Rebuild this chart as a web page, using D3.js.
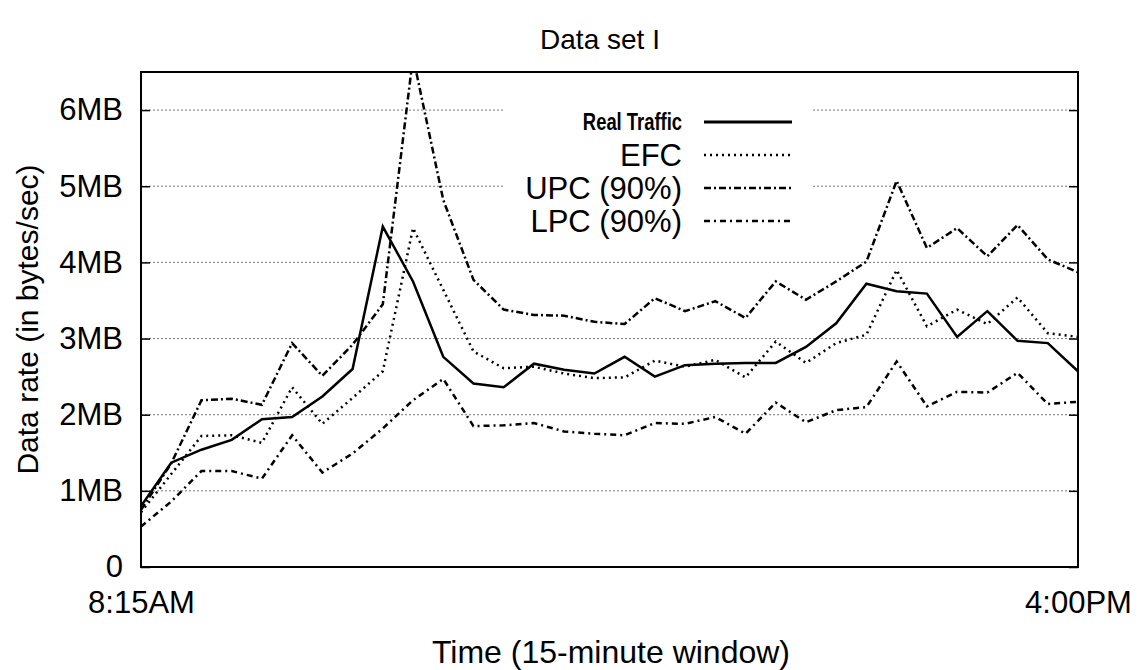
<!DOCTYPE html>
<html>
<head>
<meta charset="utf-8">
<script src="https://cdn.jsdelivr.net/npm/d3@7"></script>
<style>
  body { margin: 0; background: #fff; }
  text { font-family: "Liberation Sans", Arial, sans-serif; fill: #000; }
</style>
</head>
<body>
<script>
// 15-minute windows, 8:15AM .. 4:00PM
const xTickLabels = ["8:15AM", "4:00PM"]
const yTickLabels = ["0", "1MB", "2MB", "3MB", "4MB", "5MB", "6MB"]

// data rate in MB/sec
const realTraffic = [0.80,1.37,1.54,1.67,1.94,1.97,2.24,2.60,4.47,3.75,2.76,2.41,2.36,2.67,2.59,2.54,
                     2.76,2.50,2.65,2.67,2.68,2.68,2.89,3.20,3.72,3.62,3.59,3.02,3.36,2.97,2.94,2.57]
const efc = [0.72,1.22,1.72,1.73,1.63,2.36,1.88,2.22,2.57,4.45,3.64,2.83,2.61,2.63,2.54,2.48,
             2.49,2.71,2.63,2.72,2.49,2.96,2.68,2.94,3.05,3.90,3.16,3.38,3.19,3.54,3.07,3.02]
const upc = [0.75,1.36,2.19,2.21,2.13,2.94,2.51,2.92,3.45,6.70,4.82,3.77,3.38,3.31,3.30,3.22,
             3.19,3.53,3.36,3.49,3.27,3.75,3.51,3.75,4.01,5.07,4.19,4.45,4.08,4.49,4.04,3.87]
const lpc = [0.53,0.86,1.26,1.26,1.16,1.73,1.24,1.49,1.82,2.19,2.47,1.85,1.86,1.89,1.78,1.75,
             1.73,1.89,1.88,1.97,1.75,2.16,1.90,2.06,2.10,2.70,2.11,2.30,2.29,2.55,2.14,2.17]

const series = [
    {name: "Real Traffic", values: realTraffic, dash: null, bold: true},
    {name: "EFC", values: efc, dash: "2,4"},
    {name: "UPC (90%)", values: upc, dash: "7,3,2,3"},
    {name: "LPC (90%)", values: lpc, dash: "6,4,2,4"}
]

const width = 1145
const height = 670
const plotLeft = 141, plotRight = 1078, plotTop = 72, plotBottom = 567

const svg = d3.select("body").append("svg")
    .attr("width", width)
    .attr("height", height)

const x = d3.scaleLinear().domain([0, realTraffic.length - 1]).range([plotLeft, plotRight])
const y = d3.scaleLinear().domain([0, 6.5]).range([plotBottom, plotTop])

svg.append("clipPath").attr("id", "plot")
    .append("rect")
    .attr("x", plotLeft).attr("y", plotTop)
    .attr("width", plotRight - plotLeft).attr("height", plotBottom - plotTop)

// grid
svg.append("g")
    .selectAll("line")
    .data(d3.range(1, 7))
    .enter()
    .append("line")
    .attr("x1", plotLeft).attr("x2", plotRight)
    .attr("y1", d => y(d)).attr("y2", d => y(d))
    .attr("stroke", "#777")
    .attr("stroke-width", 1)
    .attr("stroke-dasharray", "2,2")

// inward ticks, both sides
svg.append("g")
    .attr("transform", `translate(${plotLeft},0)`)
    .call(d3.axisLeft(y).tickValues(d3.range(0, 7)).tickSize(-9).tickFormat(""))
    .call(g => g.select(".domain").remove())
    .selectAll("line").attr("stroke-width", 1.5)
svg.append("g")
    .attr("transform", `translate(${plotRight},0)`)
    .call(d3.axisRight(y).tickValues(d3.range(0, 7)).tickSize(-9).tickFormat(""))
    .call(g => g.select(".domain").remove())
    .selectAll("line").attr("stroke-width", 1.5)

// tick labels
svg.append("g")
    .attr("transform", `translate(${plotLeft},0)`)
    .call(d3.axisLeft(y).tickValues(d3.range(0, 7)).tickSize(0).tickPadding(18)
        .tickFormat(d => yTickLabels[d]))
    .call(g => g.select(".domain").remove())
    .selectAll("text")
    .style("font-family", "Liberation Sans, Arial, sans-serif")
    .style("font-size", "31px")

svg.append("g")
    .attr("transform", `translate(0,${plotBottom})`)
    .call(d3.axisBottom(x).tickValues([0, realTraffic.length - 1]).tickSize(0).tickPadding(24)
        .tickFormat((d, i) => xTickLabels[i]))
    .call(g => g.select(".domain").remove())
    .selectAll("text")
    .style("font-family", "Liberation Sans, Arial, sans-serif")
    .style("font-size", "31px")

// legend background hides the grid behind it
const legend = svg.append("g")
legend.append("rect")
    .attr("x", 505).attr("y", 96)
    .attr("width", 307).attr("height", 140)
    .attr("fill", "#fff")

// series
const line = d3.line()
    .x((d, i) => x(i))
    .y(d => y(d))

svg.append("g")
    .attr("clip-path", "url(#plot)")
    .selectAll("path")
    .data(series)
    .enter()
    .append("path")
    .attr("d", d => line(d.values))
    .attr("fill", "none")
    .attr("stroke", "#000")
    .attr("stroke-width", 2.5)
    .attr("stroke-dasharray", d => d.dash)

const row = legend.selectAll(".row")
    .data(series)
    .enter()
    .append("g")
    .attr("class", "row")
    .attr("transform", (d, i) => `translate(0,${122 + i * 33})`)

// the bold label is squeezed to look like a condensed face
row.append("text")
    .attr("transform", d => d.bold ? "translate(682,0) scale(0.8,1)" : "translate(682,0)")
    .attr("dy", "0.35em")
    .attr("text-anchor", "end")
    .style("font-weight", d => d.bold ? "bold" : null)
    .style("font-size", d => d.bold ? "23px" : "31px")
    .text(d => d.name)

row.append("line")
    .attr("x1", 704).attr("x2", 792)
    .attr("stroke", "#000")
    .attr("stroke-width", d => d.bold ? 3 : 2.5)
    .attr("stroke-dasharray", d => d.dash)

// frame
svg.append("rect")
    .attr("x", plotLeft).attr("y", plotTop)
    .attr("width", plotRight - plotLeft).attr("height", plotBottom - plotTop)
    .attr("fill", "none")
    .attr("stroke", "#000")
    .attr("stroke-width", 2)

svg.append("text")
    .attr("x", 600).attr("y", 49)
    .attr("text-anchor", "middle")
    .style("font-size", "28px")
    .text("Data set I")

svg.append("text")
    .attr("x", 611).attr("y", 663)
    .attr("text-anchor", "middle")
    .style("font-size", "32px")
    .text("Time (15-minute window)")

svg.append("text")
    .attr("transform", `translate(38,${(plotTop + plotBottom) / 2}) rotate(-90)`)
    .attr("text-anchor", "middle")
    .style("font-size", "30px")
    .text("Data rate (in bytes/sec)")
</script>
</body>
</html>
